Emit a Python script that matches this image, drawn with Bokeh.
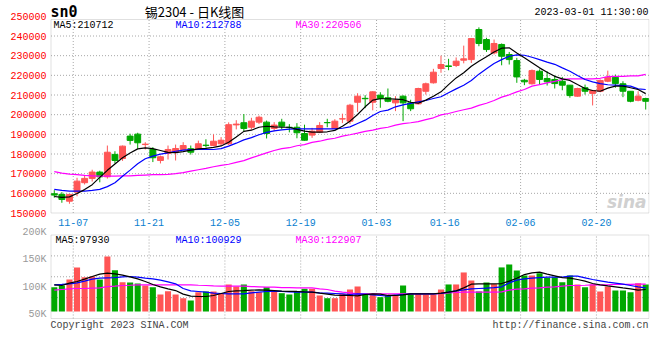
from bokeh.plotting import figure
from bokeh.models import Label, ColumnDataSource, Range1d, BoxAnnotation
from bokeh.embed import file_html
from bokeh.resources import INLINE
from bokeh.core.properties import value

# ---------------- data ----------------
dates = ["11-03","11-04","11-07","11-08","11-09","11-10","11-11","11-14","11-15","11-16",
         "11-17","11-18","11-21","11-22","11-23","11-24","11-25","11-28","11-29","11-30",
         "12-01","12-02","12-05","12-06","12-07","12-08","12-09","12-12","12-13","12-14",
         "12-15","12-16","12-19","12-20","12-21","12-22","12-23","12-26","12-27","12-28",
         "12-29","12-30","01-03","01-04","01-05","01-06","01-09","01-10","01-11","01-12",
         "01-13","01-16","01-17","01-18","01-19","01-20","01-30","01-31","02-01","02-02",
         "02-03","02-06","02-07","02-08","02-09","02-10","02-13","02-14","02-15","02-16",
         "02-17","02-20","02-21","02-22","02-23","02-24","02-27","02-28","03-01"]

opens = [159800,159450,156000,160600,165400,167600,170800,168400,179800,177700,
         189100,190100,184800,182300,176700,180300,180900,182300,182700,182700,
         184500,184300,185200,185200,194800,195900,193600,196200,196200,193000,
         196200,193600,193600,190400,189600,191100,196000,193000,197800,196700,
         206300,208300,206300,209900,208600,206000,209400,206000,205500,211900,
         216200,223500,224800,225000,227700,228000,243300,238200,231400,235700,
         230600,227500,217500,215700,222100,218400,217900,217000,215000,209400,
         213700,210800,211900,217000,219000,215700,211900,207300,208200]
highs = [161600,160600,159600,167900,169100,172000,171500,184300,181400,184300,
         190300,190800,186000,183500,179200,184300,184800,186000,184300,186800,
         187500,190000,188600,196100,197200,200300,198400,199500,197000,196200,
         197900,195200,195700,194900,193300,196200,197900,197700,200500,205500,
         210900,209900,211900,211400,213300,209400,209800,207600,213700,216300,
         223300,230000,228400,229100,235100,239000,244400,239100,238200,236200,
         231900,228900,218200,223000,223000,222100,219900,219200,215000,213700,
         215300,212300,217900,222400,220400,217000,211900,211900,208600]
lows = [157800,155200,154700,158500,164500,166000,165600,167500,175200,176500,
        184800,182700,182300,175900,175200,177200,176700,182000,179700,182300,
        183300,184000,184300,184500,192500,191600,192400,195200,187900,191600,
        192500,191000,188000,186800,188200,190600,193600,192500,195700,195200,
        201400,203300,202200,203500,206300,201800,196700,201800,205200,210200,
        215800,221300,222600,224200,226100,226300,234800,231900,230600,225100,
        225500,216200,215000,215300,215300,214800,213300,212400,208600,209100,
        210200,204700,211400,216500,213700,208900,206300,206800,202600]
closes = [159100,156900,159450,166200,167600,170800,168400,180900,176700,184000,
          186900,185700,185000,178100,178600,182300,182800,184300,180900,185200,
          184300,186500,187000,194900,195200,193000,196700,198700,190400,194700,
          194100,193400,190800,187000,191600,194500,195900,196700,197900,204800,
          209400,208100,211600,208200,206800,207400,206000,203000,213300,215700,
          221600,225500,224500,227200,228400,238700,236200,233100,236200,229700,
          228000,219200,216700,222400,217900,216700,215800,215000,209700,213300,
          211900,212300,217400,219000,215800,211900,206800,209400,206800]

ma5 = [158400,157900,158200,159900,161900,164400,168100,171700,174900,178100,
       180500,182600,183100,182700,181800,180800,180700,181200,182000,182600,
       182900,183400,184100,186000,188700,191500,192100,193600,194100,193800,
       193600,193600,192500,191600,191100,191100,191300,192000,194100,196700,
       200100,204000,207400,208100,208100,207900,207600,206300,205800,207400,
       209400,211600,215300,218700,221300,224600,227200,229400,231900,233800,
       234000,231400,228900,226400,223800,221600,219500,218200,217400,215300,
       213300,212300,211900,213500,214500,214500,213700,212800,210712]
ma10 = [162000,161500,161100,161100,161100,161500,162000,163400,165400,168700,
        171800,175000,177600,178900,179900,180600,181400,182000,182200,182300,
        182300,182300,182700,184000,185500,187200,188300,189800,191000,191800,
        192300,192600,192800,192800,192800,192800,192800,192800,193100,193800,
        195500,197200,199600,201600,202300,204000,205000,205700,206500,207200,
        208200,209100,211100,213100,215000,217400,220600,223300,226000,228000,
        229700,230400,230200,229200,228000,226700,225600,223800,222100,219900,
        217900,216700,215800,215200,215000,214800,214500,213100,212788]
ma30 = [171000,170300,169800,169500,169100,168900,168700,168700,168700,168900,
        168900,169100,169300,169500,169500,169600,170000,170500,171300,172000,
        172700,173500,174200,174800,175700,176600,178000,179300,180600,181800,
        182700,183200,184200,184800,185900,186500,187400,188000,189100,189800,
        190600,191500,192100,193000,193600,194700,195400,195900,196500,197500,
        198400,199900,200600,201600,202500,203300,204700,205800,207200,208900,
        210100,211600,212800,214500,215300,216200,216900,217900,218200,218200,
        218200,218200,218500,219300,219500,219500,219700,219700,220506]

volume = [100000,103100,114100,136100,118300,119600,114100,156100,131100,109100,
          108600,106800,103100,100000,86700,92700,86700,79900,75700,90800,
          92200,92200,88000,105000,101300,105000,92700,90800,100000,92700,
          89100,86700,92700,97100,97100,84900,79900,79900,88000,95800,
          101300,88000,88000,81800,84900,84900,103100,89100,89100,86700,
          86700,95800,105000,105000,126900,112200,92200,108600,105500,136100,
          141500,130500,121400,121400,125600,117100,118300,109100,121400,105000,
          100000,105000,92200,101300,93900,93900,90800,107400,105000]
vma5 = [104300,103100,107400,110400,114700,119500,123800,125600,124400,121900,
        118900,115200,110400,105000,100700,97000,93900,87300,83600,83000,
        83000,84900,88500,92200,93400,93900,94600,95100,94600,93900,
        92700,92200,92200,91500,91000,89100,87300,85400,84900,84900,
        84200,86700,87900,87300,84900,84900,86100,87900,87900,87900,
        87900,89100,91000,93400,98800,105500,106200,106200,106200,106700,
        111000,116400,123100,126200,127500,123800,120700,117600,116400,114000,
        111000,106700,104300,102400,100700,98800,97000,94600,95800]
vma10 = [104300,105000,106200,107900,111000,114700,116400,117100,117600,118900,
         119500,118300,116400,115200,112800,109800,106200,97600,93400,92200,
         91000,89100,88500,87900,87900,87900,89700,91000,92200,92700,
         92200,91500,91000,91000,91000,89700,89100,88500,87900,86700,
         87900,87300,86100,84900,83700,85400,86700,87900,87900,87900,
         87900,88500,91000,93400,95100,97000,97600,98200,99400,100700,
         107900,112800,115200,116400,117600,118300,118300,118300,120100,120100,
         117100,114000,111600,109100,107400,105500,103100,100700,98800]
vma30 = [94600,95800,97000,97600,97600,98200,98800,101200,101900,103100,
         103600,104300,104300,104300,104300,104300,104300,104300,104300,103600,
         103100,102400,101900,101900,101900,101900,101200,100700,100000,100000,
         99400,99400,98800,98800,98800,97000,95800,92700,91000,89700,
         87900,87900,87900,87900,87900,87900,87900,87900,87900,87900,
         87900,88500,89700,90300,91000,91000,91000,91000,91000,91500,
         94600,96400,97000,98200,98800,100000,100700,101900,103100,103100,
         103600,104300,104300,104300,105000,105000,105000,105500,105500]

ma_label_main = [210712, 212788, 220506]
ma_label_vol = [97930, 100929, 122907]

tick_dates = ["11-07","11-21","12-05","12-19","01-03","01-16","02-06","02-20"]
price_ticks = [150000,160000,170000,180000,190000,200000,210000,220000,230000,240000,250000]
vol_ticks = [50000, 100000, 150000, 200000]
vol_tick_labels = ["50K", "100K", "150K", "200K"]

# ---------------- styling / geometry ----------------
RED = "#ff5555"
GREEN = "#00a800"
GRID = "#a8a8a8"
BORDER = "#999999"
MONO = "Liberation Mono"
W, H = 660, 340
FX0, FX1 = 50, 649            # left / right edge of the chart boxes (px)

def lin(p0, v0, p1, v1):
    return lambda p: v0 + (p - p0) * (v1 - v0) / (p1 - p0)

n = len(dates)
px_x = lin(FX0, -0.5, FX1, n - 0.5)            # page px -> candle index
price_of = lin(212.5, 150000, 35.5, 240000)    # page px -> price
vol_of = lin(273, 125000, 218.2, 225000)       # page px -> volume

xs = list(range(n))
colors = [RED if c >= o else GREEN for o, c in zip(opens, closes)]
src = ColumnDataSource(dict(
    x=xs, open=opens, close=closes, high=highs, low=lows,
    top=[max(o, c) for o, c in zip(opens, closes)],
    bottom=[min(o, c) for o, c in zip(opens, closes)],
    color=colors, vol=volume,
    ma5=ma5, ma10=ma10, ma30=ma30, vma5=vma5, vma10=vma10, vma30=vma30))

# a date's grid line sits on the right edge of its candle
tick_pos = [dates.index(d) + 0.5 for d in tick_dates]

# one canvas: price scale (default y range) and volume scale ("vol")
p = figure(frame_width=FX1, frame_height=H,
           x_range=Range1d(px_x(0), px_x(FX1)),
           y_range=Range1d(price_of(H), price_of(0)),
           output_backend="svg", toolbar_location=None,
           min_border_left=0, min_border_right=W - FX1, min_border_top=0, min_border_bottom=0)
p.extra_y_ranges = {"vol": Range1d(vol_of(H), vol_of(0))}
p.background_fill_color = "white"
p.border_fill_color = "white"
p.outline_line_color = None
p.xaxis.visible = False
p.yaxis.visible = False
p.xgrid.visible = False
p.ygrid.visible = False

XL, XR = px_x(50.5), px_x(648.5)

def lab(px, py_val, text, color="black", size="10px", font=MONO, align="left", style="normal"):
    p.add_layout(Label(x=px_x(px), y=py_val, text=text, text_color=color, text_font=font,
                       text_font_size=size, text_align=align, text_baseline="middle",
                       text_font_style=style))

def texts(x, y, t, color, align, **kw):
    p.text(x=x, y=y, text=t, text_font=value(MONO), text_font_size="10px",
           text_color=color, text_align=align, text_baseline="middle", **kw)

# ---------- price panel ----------
BOX1_TOP, BOX1_BOT = price_of(19), price_of(212.5)
grid_prices = price_ticks[1:-1]
p.segment(x0=[XL] * len(grid_prices), x1=[XR] * len(grid_prices), y0=grid_prices, y1=grid_prices,
          line_color=GRID, line_dash="1 2", line_width=1)
p.segment(x0=tick_pos, x1=tick_pos, y0=[BOX1_BOT] * len(tick_pos), y1=[BOX1_TOP] * len(tick_pos),
          line_color=GRID, line_dash="1 2", line_width=1)
p.add_layout(BoxAnnotation(left=XL, right=XR, top=BOX1_TOP, bottom=BOX1_BOT,
                           fill_alpha=0, line_color=BORDER, line_width=1))

p.segment(x0="x", y0="low", x1="x", y1="high", line_color="color", line_width=1, source=src)
p.vbar(x="x", width=0.78, top="top", bottom="bottom", fill_color="color",
       line_color="color", line_width=1, source=src)
p.line("x", "ma30", line_color="#ff00ff", line_width=1.2, source=src)
p.line("x", "ma10", line_color="#0000ff", line_width=1.2, source=src)
p.line("x", "ma5", line_color="black", line_width=1.2, source=src)

# price tick labels and date labels, placed through the scales
texts([px_x(46)] * len(price_ticks), price_ticks, [str(t) for t in price_ticks], "#ff0000", "right")
texts(tick_pos, [price_of(222)] * len(tick_pos), tick_dates, "#0a7fd0", "center")

# header row
lab(50, price_of(11), "sn0", size="15px", font="DejaVu Sans Mono", style="bold")
lab(194, price_of(11), "锡2304 - 日K线图", size="13px", font="Noto Sans CJK SC", align="center")
lab(648, price_of(11.5), "2023-03-01 11:30:00", align="right")
lab(53, price_of(24.5), "MA5:%d" % ma_label_main[0])
lab(175, price_of(24.5), "MA10:%d" % ma_label_main[1], color="#0000ff")
lab(295, price_of(24.5), "MA30:%d" % ma_label_main[2], color="#ff00ff")
lab(646, price_of(201), "sina", color="#d0d0d0", size="17px", font="DejaVu Sans",
    align="right", style="bold italic")

# ---------- volume panel ----------
BOX2_TOP, BOX2_BOT = vol_of(234.5), vol_of(318)
VOL_BASE = vol_of(311)
hgrid = [BOX2_BOT + (BOX2_TOP - BOX2_BOT) * k / 4 for k in (1, 2, 3)]
p.segment(x0=tick_pos, x1=tick_pos, y0=[BOX2_BOT] * len(tick_pos), y1=[BOX2_TOP] * len(tick_pos),
          line_color=GRID, line_dash="1 2", line_width=1, y_range_name="vol")
p.segment(x0=[XL] * 3, x1=[XR] * 3, y0=hgrid, y1=hgrid,
          line_color=GRID, line_dash="1 2", line_width=1, y_range_name="vol")
p.add_layout(BoxAnnotation(left=XL, right=XR, top=BOX2_TOP, bottom=BOX2_BOT, y_range_name="vol",
                           fill_alpha=0, line_color=BORDER, line_width=1))

p.vbar(x="x", width=0.8, top="vol", bottom=VOL_BASE, fill_color="color",
       line_color=None, source=src, y_range_name="vol")
p.line("x", "vma30", line_color="#ff00ff", line_width=1.2, source=src, y_range_name="vol")
p.line("x", "vma10", line_color="#0000ff", line_width=1.2, source=src, y_range_name="vol")
p.line("x", "vma5", line_color="black", line_width=1.2, source=src, y_range_name="vol")

texts([px_x(46)] * len(vol_ticks), vol_ticks, vol_tick_labels, "#999999", "right", y_range_name="vol")

lab(55, price_of(239.5), "MA5:%d" % ma_label_vol[0])
lab(175, price_of(239.5), "MA10:%d" % ma_label_vol[1], color="#0000ff")
lab(295, price_of(239.5), "MA30:%d" % ma_label_vol[2], color="#ff00ff")
lab(50, price_of(324.5), "Copyright 2023 SINA.COM", color="#444444")
lab(648, price_of(324.5), "http://finance.sina.com.cn", color="#444444", align="right")

open("out.html", "w").write(file_html(p, INLINE))
